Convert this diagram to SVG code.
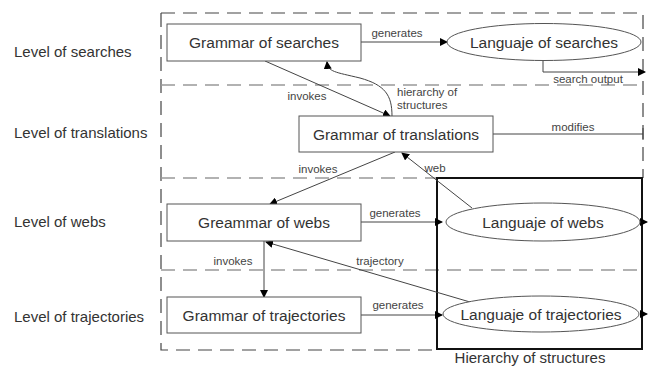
<svg xmlns="http://www.w3.org/2000/svg" width="648" height="366" viewBox="0 0 648 366">
<style>
text{font-family:"Liberation Sans",Arial,sans-serif;fill:#333}
.lvl{font-size:15px}
.nt{font-size:15.5px;text-anchor:middle}
.el{font-size:11.5px;text-anchor:middle;fill:#444}
.box{fill:#fff;stroke:#555;stroke-width:1}
.dk{fill:none;stroke:#444;stroke-width:1.2;stroke-dasharray:14,8}
.gr{fill:none;stroke:#999;stroke-width:1.5;stroke-dasharray:14,8}
.c{fill:none;stroke:#444;stroke-width:1}
</style>
<defs>
<marker id="ar" markerWidth="8" markerHeight="8" refX="7" refY="4" orient="auto" markerUnits="userSpaceOnUse">
<path d="M0,0 L8,4 L0,8 z" fill="#000"/>
</marker>
</defs>
<rect width="648" height="366" fill="#fff"/>
<g id="levels">
<text class="lvl" x="14" y="57">Level of searches</text>
<text class="lvl" x="14" y="138">Level of translations</text>
<text class="lvl" x="14" y="227">Level of webs</text>
<text class="lvl" x="14" y="322">Level of trajectories</text>
</g>
<g id="frames">
<path class="dk" d="M161,13 H643 V178"/>
<path class="dk" d="M161,13 V350 H437"/>
<path class="gr" d="M161,85 H643"/>
<path class="gr" d="M161,178 H643"/>
<path class="gr" d="M161,270 H640"/>
</g>
<g id="hierarchy">
<rect x="437" y="178" width="205" height="171" fill="none" stroke="#111" stroke-width="2"/>
<text x="530" y="363" style="font-size:15px;text-anchor:middle">Hierarchy of structures</text>
</g>
<g id="connectors">
<line class="c" x1="361" y1="42" x2="447" y2="42" marker-end="url(#ar)"/>
<text class="el" x="397" y="37">generates</text>
<path class="c" d="M543,61 V72 H645" marker-end="url(#ar)"/>
<text class="el" x="588" y="83">search output</text>
<line class="c" x1="265" y1="61" x2="390" y2="116" marker-end="url(#ar)"/>
<text class="el" x="307" y="100">invokes</text>
<path class="c" d="M392,116 C392,95 385,85 360,78 C335,72 328,72 327,62" marker-end="url(#ar)"/>
<text x="397" y="96" style="font-size:11.5px;fill:#444">hierarchy of</text>
<text x="397" y="109" style="font-size:11.5px;fill:#444">structures</text>
<line class="c" x1="493" y1="134" x2="643" y2="134"/>
<line class="c" x1="643" y1="128" x2="643" y2="140"/>
<text class="el" x="573" y="131">modifies</text>
<line class="c" x1="395" y1="152" x2="270" y2="204" marker-end="url(#ar)"/>
<text class="el" x="318" y="173">invokes</text>
<line class="c" x1="472" y1="208" x2="402" y2="153" marker-end="url(#ar)"/>
<text class="el" x="435" y="172">web</text>
<line class="c" x1="361" y1="222" x2="442" y2="222" marker-end="url(#ar)"/>
<text class="el" x="395" y="217">generates</text>
<line class="c" x1="640" y1="222" x2="647" y2="222" marker-end="url(#ar)"/>
<line class="c" x1="264" y1="241" x2="264" y2="297" marker-end="url(#ar)"/>
<text class="el" x="233" y="265">invokes</text>
<line class="c" x1="470" y1="302" x2="266" y2="242" marker-end="url(#ar)"/>
<text class="el" x="380" y="265">trajectory</text>
<line class="c" x1="361" y1="315" x2="442" y2="315" marker-end="url(#ar)"/>
<text class="el" x="398" y="309">generates</text>
<line class="c" x1="640" y1="314" x2="647" y2="314" marker-end="url(#ar)"/>
</g>
<g id="n_gs"><rect class="box" x="167" y="24" width="194" height="37"/><text class="nt" x="264" y="47.5">Grammar of searches</text></g>
<g id="n_ls"><ellipse class="box" cx="544" cy="42" rx="97" ry="18.5"/><text class="nt" x="544" y="47.5">Languaje of searches</text></g>
<g id="n_gt"><rect class="box" x="299" y="116" width="194" height="36"/><text class="nt" x="396" y="139.5">Grammar of translations</text></g>
<g id="n_gw"><rect class="box" x="167" y="204" width="194" height="37"/><text class="nt" x="264" y="227.5">Greammar of webs</text></g>
<g id="n_lw"><ellipse class="box" cx="543" cy="222" rx="97" ry="19"/><text class="nt" x="543" y="227.5">Languaje of webs</text></g>
<g id="n_gtr"><rect class="box" x="167" y="297" width="194" height="36"/><text class="nt" x="264" y="320.5">Grammar of trajectories</text></g>
<g id="n_ltr"><ellipse class="box" cx="541" cy="314" rx="98" ry="18"/><text class="nt" x="541" y="319.5">Languaje of trajectories</text></g>
</svg>
